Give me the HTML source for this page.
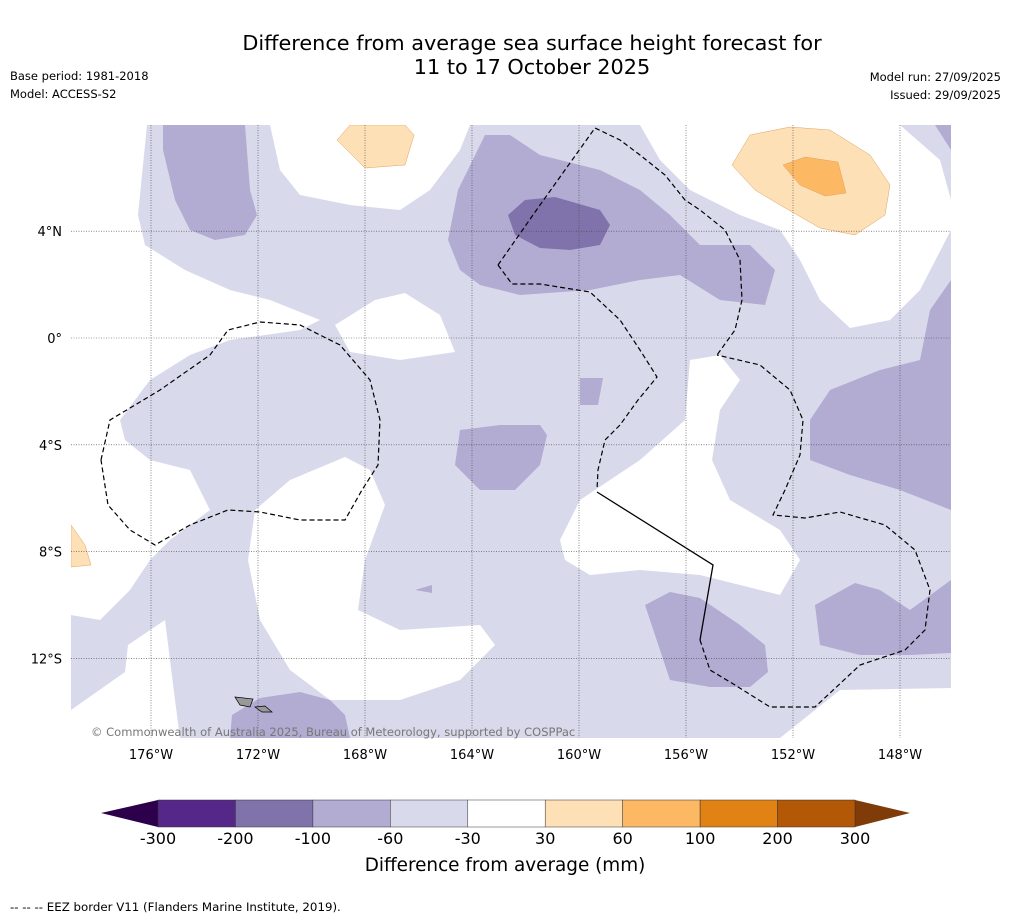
<!DOCTYPE html>
<html><head><meta charset="utf-8"><style>
body{margin:0;background:#fff;width:1011px;height:919px;overflow:hidden;font-family:"DejaVu Sans","Liberation Sans",sans-serif}
svg{display:block;font-family:"DejaVu Sans","Liberation Sans",sans-serif}
</style></head><body>
<svg id="c" width="1011" height="919" xmlns="http://www.w3.org/2000/svg"></svg>
<script>
const levels=[-300,-200,-100,-60,-30,30,60,100,200,300];
const levelColors=['#542788','#8073ac','#b2abd2','#d8daeb','#ffffff','#fee0b6','#fdb863','#e08214','#b35806'];
const underColor='#2d004b', overColor='#7f3b08';
const lonTicks=[-176,-172,-168,-164,-160,-156,-152,-148];
const lonLabels=['176°W','172°W','168°W','164°W','160°W','156°W','152°W','148°W'];
const latTicks=[4,0,-4,-8,-12];
const latLabels=['4°N','0°','4°S','8°S','12°S'];
function P(a){const r=[];for(let i=0;i<a.length;i+=2)r.push([-176+(a[i]-151)/26.75,(338-a[i+1])/26.7]);return r;}
const regions=[
 [4,P([71,125,147,125,138,215,145,245,185,270,230,290,270,300,320,320,300,330,230,340,190,355,150,380,120,420,125,440,150,460,190,470,210,510,170,540,150,560,130,590,100,620,71,615])],
 [4,P([270,125,470,125,460,150,430,190,400,210,350,205,300,195,280,170])],
 [5,P([337,140,350,125,405,125,414,135,405,165,365,168])],
 [4,P([640,125,900,125,940,160,951,200,951,230,920,290,890,320,850,328,820,300,800,260,780,230,740,215,690,190,660,160])],
 [5,P([732,165,750,135,790,127,830,130,870,155,890,185,885,215,855,235,820,228,780,205,755,190])],
 [6,P([783,165,805,157,838,162,846,193,825,196,800,185])],
 [4,P([335,325,375,300,405,293,440,315,455,352,400,360,350,352])],
 [4,P([255,510,290,480,345,457,370,470,385,505,365,560,358,610,400,630,480,625,495,645,460,680,400,700,330,700,290,670,260,620,248,560])],
 [4,P([560,540,580,500,640,460,685,420,690,360,720,355,740,380,720,410,712,460,730,500,780,530,800,560,780,595,700,575,640,570,590,575,565,560])],
 [5,P([71,525,85,545,91,565,71,567])],
 [4,P([71,710,125,672,128,645,165,620,175,700,180,738,71,738])],
 [4,P([780,738,840,690,951,688,951,738])],
 [2,P([163,125,245,125,250,190,257,215,245,235,215,240,190,230,175,200,163,150])],
 [2,P([448,240,458,190,485,135,510,135,540,155,600,170,640,190,670,215,700,245,750,245,775,270,765,305,720,300,680,275,640,280,590,290,520,295,480,285,460,270])],
 [1,P([508,215,525,200,555,197,600,210,610,225,600,245,570,250,540,248,515,235])],
 [2,P([580,378,603,378,598,405,580,405])],
 [2,P([460,430,500,425,540,425,547,435,540,465,515,490,480,490,455,465])],
 [2,P([951,280,930,310,920,360,880,370,830,390,810,420,810,460,850,475,900,490,951,510])],
 [2,P([935,125,951,125,951,150])],
 [2,P([645,605,670,592,700,598,740,625,765,645,768,672,750,687,710,687,670,680,660,650])],
 [2,P([815,605,855,583,880,590,910,610,951,580,951,653,910,655,860,655,820,645])],
 [2,P([230,738,232,715,260,698,300,692,330,700,345,715,350,738])],
 [2,P([415,590,432,585,432,593])]
];
const eezDashed=[
 P([101,460,110,420,160,390,210,355,228,330,260,322,300,325,340,345,370,380,380,420,378,465,362,490,345,520,300,520,260,512,228,510,190,525,155,545,130,530,108,505,101,460]),
 P([498,265,540,205,595,128,620,140,640,155,665,175,685,200,700,210,725,230,740,260,742,300,735,330,717,355]),
 P([498,265,512,284,540,284,590,292,620,320,640,350,657,377,638,400,620,425,605,440,598,470,597,490]),
 P([700,640,710,670,735,685,770,707,815,707,860,665,905,650,925,630,930,590,915,550,885,525,840,512,805,518,773,515,785,490,800,455,803,420,790,390,760,365,717,355])
];
const eezSolid=P([597,492,713,565,700,640]);

const X0=71,X1=951,Y0=125,Y1=738;
const xs=lon=>151+(lon+176)*26.75;
const ys=lat=>338-lat*26.7;
const svg=document.getElementById('c');
const NS='http://www.w3.org/2000/svg';
function el(t,a,p){const e=document.createElementNS(NS,t);for(const k in a)e.setAttribute(k,a[k]);(p||svg).appendChild(e);return e;}
function txt(x,y,s,size,anchor,fill,name){const t=el('text',{x:x,y:y,'font-size':size,'text-anchor':anchor||'start',fill:fill||'#000'});t.textContent=s;
 
 return t;}

txt(532,50,'Difference from average sea surface height forecast for',20.8,'middle','#000','chart-title');
txt(532,74,'11 to 17 October 2025',20.8,'middle','#000','chart-subtitle');
txt(10,80,'Base period: 1981-2018',11.5,'start','#000','base-period');
txt(10,98,'Model: ACCESS-S2',11.5,'start','#000','model-name');
txt(1001,81,'Model run: 27/09/2025',11.5,'end','#000','model-run');
txt(1001,99,'Issued: 29/09/2025',11.5,'end','#000','issued-date');

const defs=el('defs',{});const cp=el('clipPath',{id:'mc'},defs);el('rect',{x:X0,y:Y0,width:X1-X0,height:Y1-Y0},cp);
const g=el('g',{'clip-path':'url(#mc)'});


const bg=el('rect',{x:X0,y:Y0,width:X1-X0,height:Y1-Y0,fill:levelColors[3]},g);


const pts=a=>a.map(p=>xs(p[0]).toFixed(1)+','+ys(p[1]).toFixed(1)).join(' ');
regions.forEach((r,i)=>{const p=el('polygon',{points:pts(r[1]),fill:levelColors[r[0]],stroke:r[0]>=5?'#e0a060':'none','stroke-width':0.5},g);
 
 });
lonTicks.forEach(l=>{const ln=el('line',{x1:xs(l),x2:xs(l),y1:Y0,y2:Y1,stroke:'#444','stroke-width':0.6,'stroke-dasharray':'1,1.5'},g);
 
 });
latTicks.forEach(l=>{const ln=el('line',{x1:X0,x2:X1,y1:ys(l),y2:ys(l),stroke:'#444','stroke-width':0.6,'stroke-dasharray':'1,1.5'},g);
 
 });
eezDashed.forEach(a=>{const p=el('polyline',{points:pts(a),fill:'none',stroke:'#000','stroke-width':1.2,'stroke-dasharray':'5,3'},g);
 
 });
const sl=el('polyline',{points:pts(eezSolid),fill:'none',stroke:'#000','stroke-width':1.3},g);


[[235,697,253,699,250,707,240,705],[255,707,265,706,272,712,262,712]].forEach(a=>{const p=el('polygon',{points:a.join(' '),fill:'#999',stroke:'#000','stroke-width':0.7},g);
 
 });
txt(91,736,'© Commonwealth of Australia 2025, Bureau of Meteorology, supported by COSPPac',11.5,'start','#777','copyright-notice');

lonTicks.forEach((l,i)=>txt(xs(l),759,lonLabels[i],13,'middle','#000','x-tick-label'));
latTicks.forEach((l,i)=>txt(62,ys(l)+5,latLabels[i],13,'end','#000','y-tick-label'));

const cbL=158,cbR=855,cbT=800,cbB=827,n=levels.length-1,w=(cbR-cbL)/n;
const cb=el('g',{});
const u=el('polygon',{points:`${cbL},${cbT} ${cbL},${cbB} 101,813`,fill:underColor},cb);

const o=el('polygon',{points:`${cbR},${cbT} ${cbR},${cbB} 910,813`,fill:overColor},cb);

levelColors.forEach((c,i)=>{const r=el('rect',{x:cbL+i*w,y:cbT,width:w,height:cbB-cbT,fill:c,stroke:'#333','stroke-width':0.5},cb);
 });
levels.forEach((v,i)=>txt(cbL+i*w,844,String(v),16,'middle','#000','colorbar-tick-label'));
txt(505,871,'Difference from average (mm)',18.4,'middle','#000','colorbar-title');
txt(10,911,'--  --  -- EEZ border V11 (Flanders Marine Institute, 2019).',11.8,'start','#000','eez-footnote');
</script>
</body></html>
